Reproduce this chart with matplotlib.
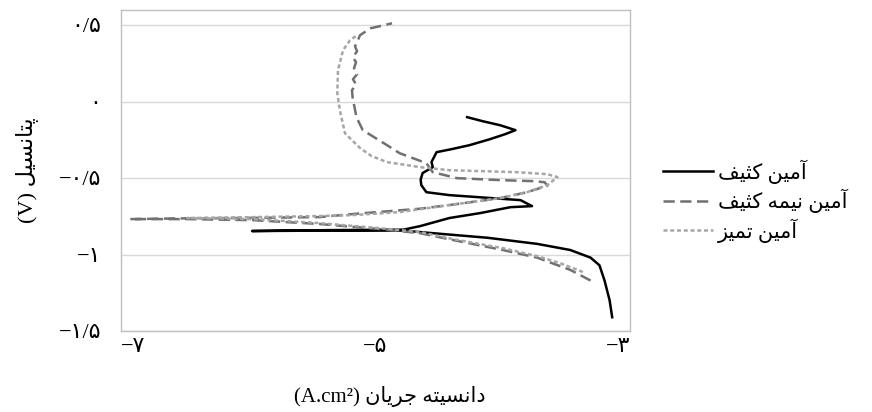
import matplotlib
matplotlib.use("Agg")
import matplotlib.pyplot as plt

# log current density / potential
x_dirty = [-3.14, -3.16, -3.20, -3.24, -3.31, -3.47, -3.73, -4.12, -4.65, -4.78, -5.36, -5.97,
           -5.36, -4.78, -4.65, -4.42, -4.18, -3.94, -3.77, -3.86, -4.42, -4.60, -4.64, -4.645,
           -4.63, -4.55, -4.56, -4.52, -4.40, -4.26, -4.10, -3.98, -3.90, -4.02, -4.16, -4.28]
y_dirty = [-1.41, -1.30, -1.17, -1.07, -1.02, -0.97, -0.93, -0.89, -0.853, -0.843, -0.843, -0.846,
           -0.840, -0.837, -0.814, -0.761, -0.729, -0.690, -0.683, -0.644, -0.611, -0.592, -0.546, -0.51,
           -0.467, -0.428, -0.395, -0.330, -0.310, -0.284, -0.245, -0.212, -0.186, -0.154, -0.127, -0.101]

x_semi = [-3.31, -3.47, -3.73, -4.00, -4.39, -4.65, -4.97, -5.44, -5.96, -6.48, -6.93,
          -6.48, -5.96, -5.44, -5.18, -4.65, -4.42, -4.02, -3.81, -3.65, -3.67, -3.75, -4.02,
          -4.36, -4.55, -4.60, -4.81, -4.91, -5.10, -5.15, -5.18, -5.185, -5.153, -5.177, -5.145,
          -5.169, -5.153, -5.177, -5.145, -5.161, -5.138, -5.122, -5.04, -4.87]
y_semi = [-1.17, -1.10, -1.02, -0.97, -0.905, -0.86, -0.833, -0.80, -0.775, -0.768, -0.768,
          -0.763, -0.760, -0.755, -0.735, -0.70, -0.676, -0.631, -0.592, -0.55, -0.527, -0.52, -0.513,
          -0.50, -0.461, -0.402, -0.337, -0.284, -0.186, -0.101, 0.029, 0.075, 0.114, 0.147, 0.180,
          0.219, 0.258, 0.291, 0.330, 0.363, 0.402, 0.435, 0.48, 0.513]

x_clean = [-3.37, -3.55, -3.73, -4.00, -4.39, -4.65, -4.97, -5.44, -5.96, -6.48,
           -5.96, -5.44, -5.18, -4.81, -4.42, -4.02, -3.81, -3.65, -3.57, -3.65, -3.89, -4.42,
           -4.65, -4.91, -5.03, -5.12, -5.185, -5.24, -5.28, -5.30, -5.295, -5.255, -5.20, -5.145]
y_clean = [-1.114, -1.056, -1.01, -0.958, -0.899, -0.853, -0.827, -0.794, -0.768, -0.761,
           -0.755, -0.748, -0.742, -0.722, -0.676, -0.631, -0.592, -0.546, -0.493, -0.474, -0.461, -0.448,
           -0.428, -0.395, -0.356, -0.304, -0.252, -0.206, -0.056, 0.056, 0.206, 0.337, 0.402, 0.435]

xticks = [-7, -5, -3]
xtick_labels = ["\u2212\u06f7", "\u2212\u06f5", "\u2212\u06f3"]
yticks = [0.5, 0, -0.5, -1, -1.5]
ytick_labels = ["\u06f0/\u06f5", "\u06f0", "\u2212\u06f0/\u06f5", "\u2212\u06f1", "\u2212\u06f1/\u06f5"]

# arabic presentation forms: isolated, final, initial, medial
FORMS = {
    'ا': ('\uFE8D', '\uFE8E', None, None),
    'آ': ('\uFE81', '\uFE82', None, None),
    'د': ('\uFEA9', '\uFEAA', None, None),
    'ر': ('\uFEAD', '\uFEAE', None, None),
    'ز': ('\uFEAF', '\uFEB0', None, None),
    'ت': ('\uFE95', '\uFE96', '\uFE97', '\uFE98'),
    'ث': ('\uFE99', '\uFE9A', '\uFE9B', '\uFE9C'),
    'ج': ('\uFE9D', '\uFE9E', '\uFE9F', '\uFEA0'),
    'س': ('\uFEB1', '\uFEB2', '\uFEB3', '\uFEB4'),
    'ف': ('\uFED1', '\uFED2', '\uFED3', '\uFED4'),
    'ل': ('\uFEDD', '\uFEDE', '\uFEDF', '\uFEE0'),
    'م': ('\uFEE1', '\uFEE2', '\uFEE3', '\uFEE4'),
    'ن': ('\uFEE5', '\uFEE6', '\uFEE7', '\uFEE8'),
    'ه': ('\uFEE9', '\uFEEA', '\uFEEB', '\uFEEC'),
    'پ': ('\uFB56', '\uFB57', '\uFB58', '\uFB59'),
    'ک': ('\uFB8E', '\uFB8F', '\uFB90', '\uFB91'),
    'ی': ('\uFBFC', '\uFBFD', '\uFBFE', '\uFBFF'),
}


def fa(text):
    # shape + reverse, so it reads right to left
    out = []
    for i, c in enumerate(text):
        if c not in FORMS:
            out.append(c)
            continue
        prev = text[i - 1] if i > 0 else ''
        nxt = text[i + 1] if i + 1 < len(text) else ''
        jp = prev in FORMS and FORMS[prev][2] is not None
        jn = FORMS[c][2] is not None and nxt in FORMS
        f = FORMS[c]
        if jp and jn:
            out.append(f[3])
        elif jp:
            out.append(f[1])
        elif jn:
            out.append(f[2])
        else:
            out.append(f[0])
    return ''.join(reversed(out))


labels = [fa("آمین کثیف"), fa("آمین نیمه کثیف"), fa("آمین تمیز")]
FAM = ['Liberation Serif', 'DejaVu Sans']
plt.rcParams['font.family'] = FAM

fig = plt.figure(figsize=(8.72, 4.12), dpi=100)
ax = fig.add_axes([121 / 872, 1 - 331 / 412, 509 / 872, 321 / 412])

ax.plot(x_dirty, y_dirty, color='black', lw=1.8, label=labels[0])
ax.plot(x_semi, y_semi, color='#707070', lw=1.8, dashes=(4.5, 2.2), label=labels[1])
ax.plot(x_clean, y_clean, color='#a6a6a6', lw=1.8, dashes=(1.6, 1.1), label=labels[2])

ax.set_xlim(-7, -3)
ax.set_ylim(-1.5, 0.6)
ax.set_xticks(xticks)
ax.set_xticklabels(xtick_labels, fontsize=16)
xl = ax.get_xticklabels()
xl[0].set_ha('left')
xl[-1].set_ha('right')
ax.set_yticks(yticks)
ax.set_yticklabels(ytick_labels, fontsize=16)
ax.tick_params(length=0)
ax.tick_params(axis='y', pad=14)
ax.tick_params(axis='x', pad=5)
ax.grid(axis='y', color='#d9d9d9', lw=1)
ax.set_axisbelow(True)
for s in ax.spines.values():
    s.set_color('#bfbfbf')
    s.set_linewidth(1)

ax.set_ylabel("(V) " + fa("پتانسیل"), fontsize=16, va='center')
ax.yaxis.set_label_coords(-0.185, 0.5)
ax.set_xlabel("(A.cm\u00b2) " + fa("دانسیته جریان"), fontsize=15, va='center')
ax.xaxis.set_label_coords(0.528, -0.205)

ax.legend(loc='center left', bbox_to_anchor=(663 / 872, 1 - 201 / 412),
          bbox_transform=fig.transFigure, frameon=False, fontsize=15,
          handlelength=2.4, handletextpad=0.25, labelspacing=0.25,
          borderpad=0, borderaxespad=0)

fig.savefig("out.png", dpi=100)
